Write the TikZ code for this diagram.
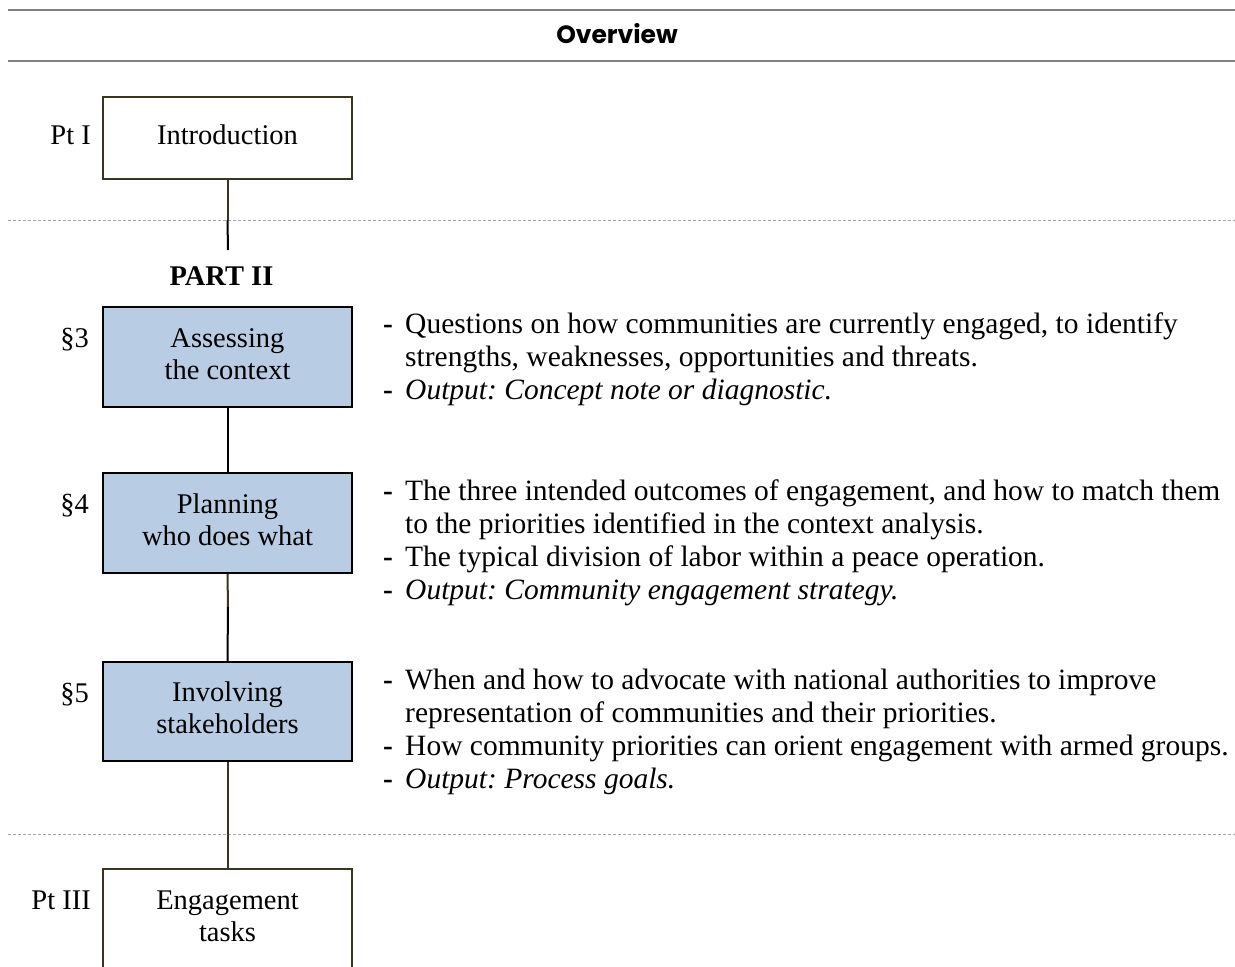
\documentclass[tikz,border=0pt]{standalone}
\usepackage{fontspec}
\setmainfont{Liberation Serif}
\newfontfamily\headfont{Poppins}
\definecolor{brn}{HTML}{3D3321}
\definecolor{boxblue}{HTML}{B8CCE4}
\definecolor{hdrgray}{HTML}{808080}
\definecolor{dashgray}{HTML}{A6A6A6}
\frenchspacing
\begin{document}
\begin{tikzpicture}[x=1pt,y=-1pt,
  txt/.style={font=\fontsize{28.5}{32}\selectfont, inner sep=0pt},
  btxt/.style={font=\fontsize{29.5}{33}\selectfont, inner sep=0pt},
  plainbox/.style={txt, draw=brn, line width=2pt, minimum width=249pt, minimum height=#1, align=center},
  bluebox/.style={txt, draw=black, fill=boxblue, line width=2pt, minimum width=249pt, minimum height=#1, align=center},
  lbl/.style={txt, anchor=base east},
  bl/.style={btxt, anchor=base west},
  hdrline/.style={draw=hdrgray, line width=2.3pt},
  sepline/.style={draw=dashgray, line width=1pt, dash pattern=on 3pt off 2pt},
  brnline/.style={draw=brn, line width=2pt},
  blkline/.style={draw=black, line width=2pt}
]
\useasboundingbox (0,0) rectangle (1235,967);
% header
\coordinate (h1l) at (8,10); \coordinate (h1r) at (1235,10);
\coordinate (h2l) at (8,61); \coordinate (h2r) at (1235,61);
\draw[hdrline] (h1l) -- (h1r);
\draw[hdrline] (h2l) -- (h2r);
\node[inner sep=0pt, anchor=base, font=\headfont\bfseries\fontsize{25}{30}\selectfont] (title) at (617,43) {Overview};
% dashed separators
\coordinate (d1l) at (8,220); \coordinate (d1r) at (1235,220);
\coordinate (d2l) at (8,834); \coordinate (d2r) at (1235,834);
\draw[sepline] (d1l) -- (d1r);
\draw[sepline] (d2l) -- (d2r);
% boxes
\node[plainbox=82pt] (intro) at (227.5,138) {\strut Introduction\strut};
\node[txt, anchor=base, font=\bfseries\fontsize{28.5}{32}\selectfont] (part2) at (221.5,285) {PART II};
\node[bluebox=100pt] (s3) at (227.5,357) {\strut Assessing\\the context\strut};
\node[bluebox=100pt] (s4) at (227.5,523) {\strut Planning\\who does what\strut};
\node[bluebox=99pt] (s5) at (227.5,711.5) {\strut Involving\\stakeholders\strut};
\node[plainbox=100pt] (p3) at (227.5,919) {\strut Engagement\\tasks\strut};
% side labels
\node[lbl] (lpt1) at (91,144.5) {Pt I};
\node[lbl] (l3) at (89,347.5) {\S3};
\node[lbl] (l4) at (89,513.5) {\S4};
\node[lbl] (l5) at (89,702) {\S5};
\node[lbl] (lpt3) at (91,909.5) {Pt III};
% connectors
\coordinate (c1) at (228,250);
\coordinate (c4) at (228,607);
\draw[brnline] (intro.south) -- (intro.south |- d1l);
\draw[blkline] (intro.south |- d1l) -- (c1);
\draw[blkline] (s3.south) -- (s4.north);
\draw[brnline] (s4.south) -- (c4);
\draw[blkline] (c4) -- (s5.north);
\draw[brnline] (s5.south) -- (p3.north);
% bullets section 3
\node[bl] (m3a) at (383,333) {\textbf{-}};
\node[bl] (t3a) at (405,333) {Questions on how communities are currently engaged, to identify};
\node[bl] (t3b) at (405,366) {strengths, weaknesses, opportunities and threats.};
\node[bl] (m3c) at (383,399) {\textbf{-}};
\node[bl] (t3c) at (405,399) {\textit{Output: Concept note or diagnostic.}};
% bullets section 4
\node[bl] (m4a) at (383,500) {\textbf{-}};
\node[bl] (t4a) at (405,500) {The three intended outcomes of engagement, and how to match them};
\node[bl] (t4b) at (405,533) {to the priorities identified in the context analysis.};
\node[bl] (m4c) at (383,566) {\textbf{-}};
\node[bl] (t4c) at (405,566) {The typical division of labor within a peace operation.};
\node[bl] (m4d) at (383,599) {\textbf{-}};
\node[bl] (t4d) at (405,599) {\textit{Output: Community engagement strategy.}};
% bullets section 5
\node[bl] (m5a) at (383,689) {\textbf{-}};
\node[bl] (t5a) at (405,689) {When and how to advocate with national authorities to improve};
\node[bl] (t5b) at (405,722) {representation of communities and their priorities.};
\node[bl] (m5c) at (383,755) {\textbf{-}};
\node[bl] (t5c) at (405,755) {How community priorities can orient engagement with armed groups.};
\node[bl] (m5d) at (383,788) {\textbf{-}};
\node[bl] (t5d) at (405,788) {\textit{Output: Process goals.}};
\end{tikzpicture}
\end{document}
